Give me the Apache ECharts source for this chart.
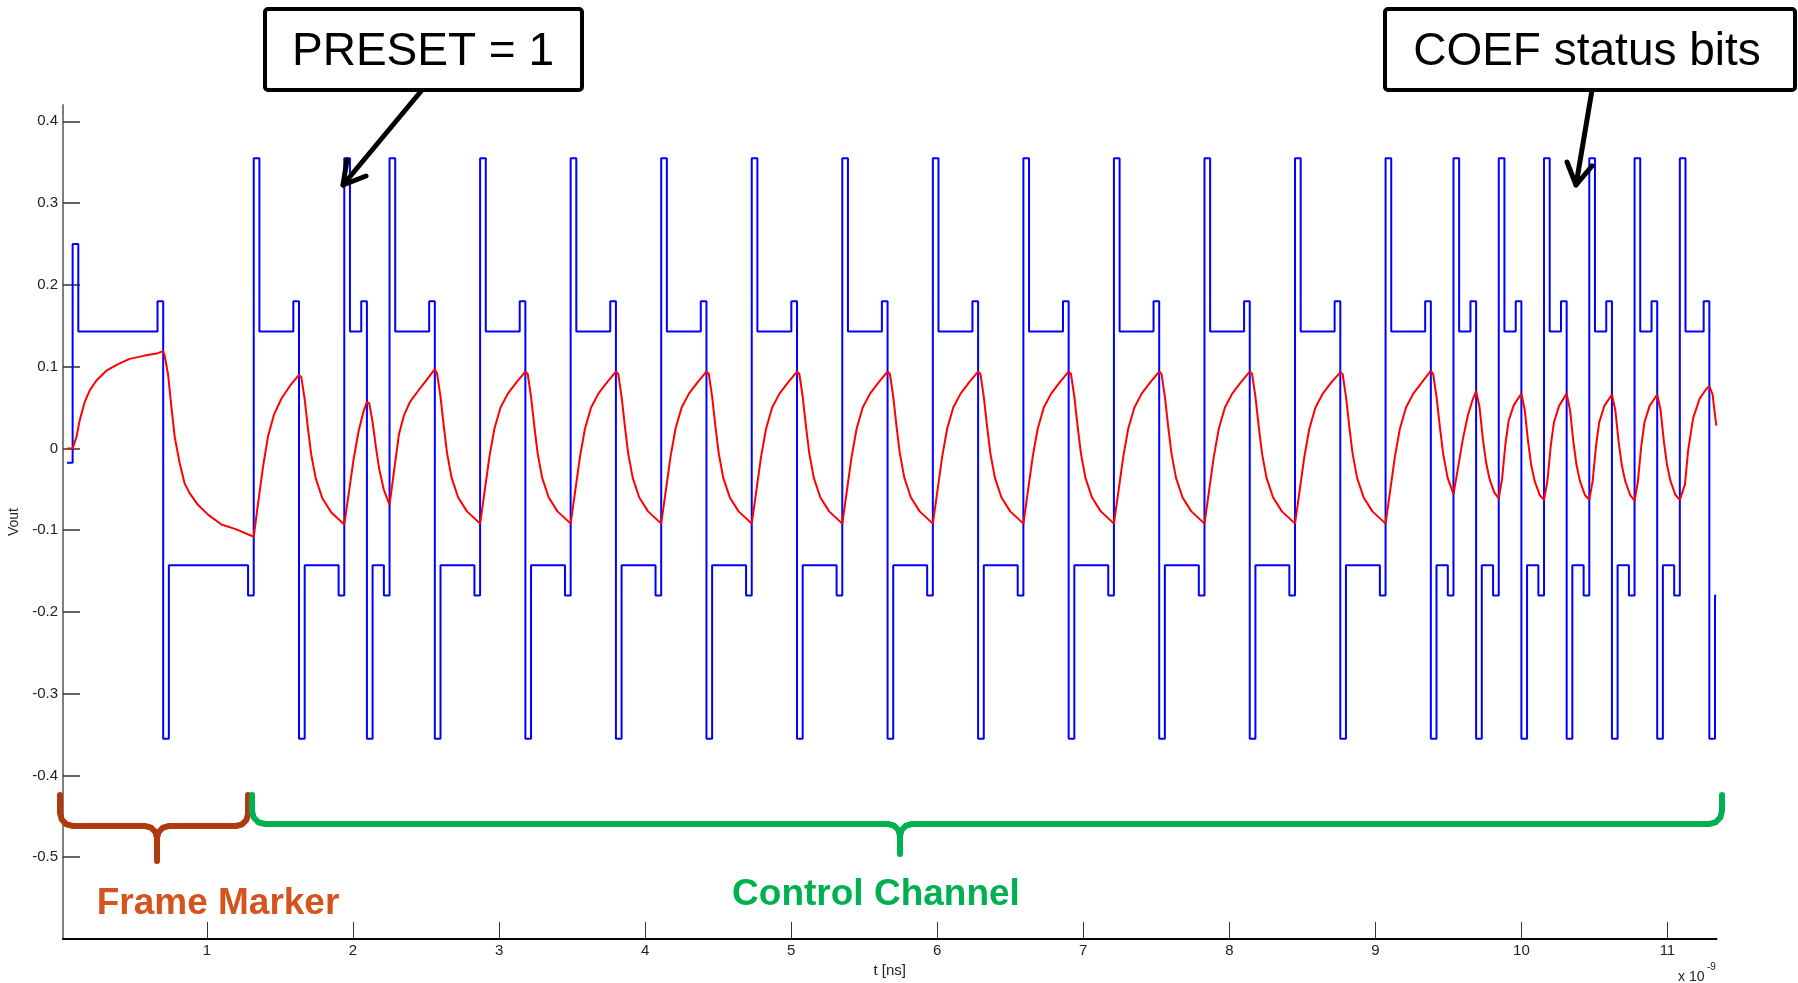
<!DOCTYPE html>
<html>
<head>
<meta charset="utf-8">
<title>Vout</title>
<script src="https://cdn.jsdelivr.net/npm/echarts@6.0.0/dist/echarts.min.js"></script>
<style>
	html, body { margin: 0; padding: 0; background: #fff; }
	#chart1 { width: 1798px; height: 983px; }
</style>
</head>
<body>
<div id="chart1"></div>
<script>
// ---- values (t in ns, Vout in V) ----
var xTicks = [1, 2, 3, 4, 5, 6, 7, 8, 9, 10, 11];
var yTicks = [-0.5, -0.4, -0.3, -0.2, -0.1, 0, 0.1, 0.2, 0.3, 0.4];

// blue: transmitted signal, edge times (first edge goes up, then alternating)
var blueStart = [0.041, -0.0175];
var blueEdges = [0.080, 0.700, 1.320, 1.630, 1.940, 2.095, 2.250, 2.560, 2.870, 3.180,
	3.490, 3.800, 4.110, 4.420, 4.730, 5.040, 5.350, 5.660, 5.970, 6.280,
	6.590, 6.900, 7.210, 7.520, 7.830, 8.140, 8.450, 8.760, 9.070, 9.380,
	9.535, 9.690, 9.845, 10.000, 10.155, 10.310, 10.465, 10.620, 10.775, 10.930,
	11.085, 11.287];
var blueEnd = 11.334;
var uiWidth = 0.0388;      // one unit interval
var blueFirstPeak = 0.25;
var bluePeak = 0.355;      // first UI after an edge
var blueHold = 0.143;      // steady level
var bluePre = 0.18;        // last UI before an edge

// red: received signal
var redPts = [
	[0.044, 0], [0.080, 0],
	[0.106, 0.014], [0.128, 0.034], [0.163, 0.057], [0.197, 0.071], [0.243, 0.083], [0.311, 0.095], [0.391, 0.103], [0.471, 0.1095], [0.573, 0.1135], [0.654, 0.116], [0.700, 0.119],
	[0.710, 0.1135], [0.733, 0.091], [0.756, 0.051], [0.779, 0.014], [0.813, -0.018], [0.847, -0.043], [0.882, -0.055], [0.938, -0.069], [1.007, -0.081], [1.099, -0.093], [1.201, -0.099], [1.320, -0.108],
	[1.349, -0.068], [1.384, -0.022], [1.418, 0.015], [1.460, 0.042], [1.510, 0.061], [1.570, 0.077], [1.630, 0.090],
	[1.646, 0.087], [1.669, 0.060], [1.692, 0.023], [1.714, -0.008], [1.745, -0.037], [1.790, -0.061], [1.850, -0.078], [1.940, -0.093],
	[1.969, -0.057], [2.004, -0.013], [2.038, 0.021], [2.070, 0.044], [2.095, 0.057],
	[2.111, 0.055], [2.134, 0.032], [2.157, 0.001], [2.179, -0.025], [2.210, -0.050], [2.250, -0.069],
	[2.279, -0.030], [2.314, 0.017], [2.348, 0.040], [2.390, 0.057], [2.440, 0.069], [2.500, 0.083], [2.560, 0.097],
	[2.576, 0.091], [2.599, 0.063], [2.622, 0.026], [2.644, -0.006], [2.675, -0.036], [2.720, -0.060], [2.780, -0.077], [2.870, -0.092],
	[2.899, -0.055], [2.934, -0.010], [2.968, 0.024], [3.010, 0.050], [3.060, 0.067], [3.120, 0.081], [3.180, 0.094],
	[3.196, 0.091], [3.219, 0.063], [3.242, 0.026], [3.264, -0.006], [3.295, -0.036], [3.340, -0.060], [3.400, -0.077], [3.490, -0.092],
	[3.519, -0.055], [3.554, -0.010], [3.588, 0.024], [3.630, 0.050], [3.680, 0.067], [3.740, 0.081], [3.800, 0.094],
	[3.816, 0.091], [3.839, 0.063], [3.862, 0.026], [3.884, -0.006], [3.915, -0.036], [3.960, -0.060], [4.020, -0.077], [4.110, -0.092],
	[4.139, -0.055], [4.174, -0.010], [4.208, 0.024], [4.250, 0.050], [4.300, 0.067], [4.360, 0.081], [4.420, 0.094],
	[4.436, 0.091], [4.459, 0.063], [4.482, 0.026], [4.504, -0.006], [4.535, -0.036], [4.580, -0.060], [4.640, -0.077], [4.730, -0.092],
	[4.759, -0.055], [4.794, -0.010], [4.828, 0.024], [4.870, 0.050], [4.920, 0.067], [4.980, 0.081], [5.040, 0.094],
	[5.056, 0.091], [5.079, 0.063], [5.102, 0.026], [5.124, -0.006], [5.155, -0.036], [5.200, -0.060], [5.260, -0.077], [5.350, -0.092],
	[5.379, -0.055], [5.414, -0.010], [5.448, 0.024], [5.490, 0.050], [5.540, 0.067], [5.600, 0.081], [5.660, 0.094],
	[5.676, 0.091], [5.699, 0.063], [5.722, 0.026], [5.744, -0.006], [5.775, -0.036], [5.820, -0.060], [5.880, -0.077], [5.970, -0.092],
	[5.999, -0.055], [6.034, -0.010], [6.068, 0.024], [6.110, 0.050], [6.160, 0.067], [6.220, 0.081], [6.280, 0.094],
	[6.296, 0.091], [6.319, 0.063], [6.342, 0.026], [6.364, -0.006], [6.395, -0.036], [6.440, -0.060], [6.500, -0.077], [6.590, -0.092],
	[6.619, -0.055], [6.654, -0.010], [6.688, 0.024], [6.730, 0.050], [6.780, 0.067], [6.840, 0.081], [6.900, 0.094],
	[6.916, 0.091], [6.939, 0.063], [6.962, 0.026], [6.984, -0.006], [7.015, -0.036], [7.060, -0.060], [7.120, -0.077], [7.210, -0.092],
	[7.239, -0.055], [7.274, -0.010], [7.308, 0.024], [7.350, 0.050], [7.400, 0.067], [7.460, 0.081], [7.520, 0.094],
	[7.536, 0.091], [7.559, 0.063], [7.582, 0.026], [7.604, -0.006], [7.635, -0.036], [7.680, -0.060], [7.740, -0.077], [7.830, -0.092],
	[7.859, -0.055], [7.894, -0.010], [7.928, 0.024], [7.970, 0.050], [8.020, 0.067], [8.080, 0.081], [8.140, 0.094],
	[8.156, 0.091], [8.179, 0.063], [8.202, 0.026], [8.224, -0.006], [8.255, -0.036], [8.300, -0.060], [8.360, -0.077], [8.450, -0.092],
	[8.479, -0.055], [8.514, -0.010], [8.548, 0.024], [8.590, 0.050], [8.640, 0.067], [8.700, 0.081], [8.760, 0.093],
	[8.776, 0.091], [8.799, 0.063], [8.822, 0.026], [8.844, -0.006], [8.875, -0.036], [8.920, -0.060], [8.980, -0.077], [9.070, -0.092],
	[9.099, -0.055], [9.134, -0.010], [9.168, 0.024], [9.210, 0.050], [9.260, 0.067], [9.320, 0.081], [9.380, 0.095],
	[9.396, 0.091], [9.419, 0.063], [9.442, 0.026], [9.464, -0.006], [9.495, -0.036], [9.535, -0.056],
	[9.564, -0.026], [9.599, 0.011], [9.633, 0.040], [9.665, 0.059], [9.690, 0.070],
	[9.713, 0.051], [9.736, 0.012], [9.758, -0.017], [9.781, -0.037], [9.815, -0.054], [9.845, -0.061],
	[9.868, -0.037], [9.891, 0.006], [9.913, 0.034], [9.948, 0.053], [10.000, 0.067],
	[10.023, 0.047], [10.046, 0.008], [10.068, -0.021], [10.091, -0.040], [10.125, -0.057], [10.155, -0.063],
	[10.178, -0.040], [10.201, 0.003], [10.223, 0.032], [10.258, 0.052], [10.310, 0.067],
	[10.333, 0.047], [10.356, 0.008], [10.378, -0.021], [10.401, -0.040], [10.435, -0.057], [10.465, -0.063],
	[10.488, -0.040], [10.511, 0.003], [10.533, 0.032], [10.568, 0.052], [10.620, 0.066],
	[10.643, 0.047], [10.666, 0.008], [10.688, -0.021], [10.711, -0.040], [10.745, -0.057], [10.775, -0.064],
	[10.798, -0.040], [10.821, 0.003], [10.843, 0.032], [10.878, 0.052], [10.930, 0.066],
	[10.953, 0.047], [10.976, 0.008], [10.998, -0.021], [11.021, -0.040], [11.055, -0.057], [11.085, -0.063],
	[11.120, -0.044], [11.142, -0.002], [11.176, 0.037], [11.221, 0.061], [11.267, 0.073], [11.287, 0.076],
	[11.309, 0.066], [11.325, 0.042], [11.335, 0.028]
];

// step points of the blue trace, held until the next point
function buildBlue() {
	var pts = [blueStart.slice()];
	var n = blueEdges.length;
	for (var i = 0; i < n; i++) {
		var p = (i % 2 === 0) ? 1 : -1;
		var t = blueEdges[i];
		pts.push([t, p * (i === 0 ? blueFirstPeak : bluePeak)]);
		if (i < n - 1) {
			pts.push([t + uiWidth, p * blueHold]);
			pts.push([blueEdges[i + 1] - uiWidth, p * bluePre]);
		} else {
			pts.push([t + uiWidth, p * bluePre]);
			pts.push([blueEnd, p * bluePre]);
		}
	}
	return pts;
}

var FONT = '"Liberation Sans", Arial, Helvetica, sans-serif';

// annotations drawn on top (pixel layout)
function txt(x, y, s, size, color, bold) {
	return {
		type: 'text', x: x, y: y, z: 110,
		style: {
			text: s, fill: color,
			font: (bold ? 'bold ' : '') + size + 'px ' + FONT,
			align: 'center', verticalAlign: 'middle',
			textAlign: 'center', textVerticalAlign: 'middle'
		}
	};
}
function pline(points, color, width) {
	return {
		type: 'polyline', z: 100,
		shape: { points: points },
		style: { stroke: color, lineWidth: width, fill: 'none', lineCap: 'round', lineJoin: 'round' }
	};
}
function box(x, y, w, h) {
	return {
		type: 'rect', z: 101,
		shape: { x: x, y: y, width: w, height: h, r: 3 },
		style: { fill: '#fff', stroke: '#000', lineWidth: 4 }
	};
}

var brown = '#AE3A0E';
var green = '#00B050';

var graphics = [
	// PRESET = 1
	pline([[422, 90], [343, 185]], '#000', 5),
	pline([[347, 160], [343, 185], [366, 176]], '#000', 5),
	box(265, 9, 317, 81),
	txt(423, 52, 'PRESET = 1', 46, '#000', false),
	// COEF status bits
	pline([[1592, 90], [1576, 185]], '#000', 5),
	pline([[1567, 162], [1576, 185], [1592, 166]], '#000', 5),
	box(1385, 9, 410, 81),
	txt(1587, 52, 'COEF status bits', 46, '#000', false),
	// braces
	pline([[60, 795], [60, 813], [61.7, 819.5], [66.5, 824.3], [73, 826], [145, 826], [151, 827.6], [155.4, 832], [157, 838], [157, 861],
		[157, 838], [158.6, 832], [163, 827.6], [169, 826], [236, 826], [242, 824.4], [246.4, 820], [248, 814], [248, 795]], brown, 6),
	pline([[252, 795], [252, 811], [253.7, 817.5], [258.5, 822.3], [265, 824], [888, 824], [894, 825.6], [898.4, 830], [900, 836], [900, 854],
		[900, 836], [901.6, 830], [906, 825.6], [912, 824], [1709, 824], [1715.5, 822.3], [1720.3, 817.5], [1722, 811], [1722, 795]], green, 6),
	txt(218, 904, 'Frame Marker', 37, '#D4541E', true),
	txt(876, 895, 'Control Channel', 37, green, true),
	// axis exponent
	{ type: 'text', x: 1678, y: 970, z: 110, style: { text: 'x 10', fill: '#222', font: '14px ' + FONT } },
	{ type: 'text', x: 1707, y: 962, z: 110, style: { text: '-9', fill: '#222', font: '10px ' + FONT } }
];

var chart1 = echarts.init(document.getElementById('chart1'));
chart1.setOption({
	backgroundColor: '#fff',
	animation: false,
	grid: { left: 63, top: 105, width: 1653.5, height: 834, containLabel: false, outerBoundsMode: 'none' },
	xAxis: {
		type: 'value',
		min: 0.014,
		max: 11.336,
		name: 't [ns]',
		nameLocation: 'middle',
		nameGap: 22,
		nameTextStyle: { fontFamily: FONT, fontSize: 15, color: '#222' },
		axisLine: { onZero: false, lineStyle: { color: '#000', width: 2 } },
		axisTick: { customValues: xTicks, inside: true, length: 17, lineStyle: { color: '#333', width: 1 } },
		axisLabel: { customValues: xTicks, margin: 4, fontFamily: FONT, fontSize: 15, color: '#222' },
		splitLine: { show: false }
	},
	yAxis: {
		type: 'value',
		min: -0.6,
		max: 0.42,
		name: 'Vout',
		nameLocation: 'middle',
		nameGap: 40,
		nameTextStyle: { fontFamily: FONT, fontSize: 14, color: '#222' },
		axisLine: { onZero: false, lineStyle: { color: '#7f7f7f', width: 2 } },
		axisTick: { customValues: yTicks, inside: true, length: 17, lineStyle: { color: '#333', width: 1.5 } },
		axisLabel: {
			customValues: yTicks, margin: 5, fontFamily: FONT, fontSize: 15, color: '#222',
			formatter: function (v) { return String(Math.round(v * 10) / 10); }
		},
		splitLine: { show: false }
	},
	series: [
		{
			name: 'tx',
			type: 'line',
			step: 'end',
			showSymbol: false,
			symbol: 'none',
			lineStyle: { color: '#0000ff', width: 2 },
			data: buildBlue()
		},
		{
			name: 'rx',
			type: 'line',
			showSymbol: false,
			symbol: 'none',
			lineStyle: { color: '#ff0000', width: 2 },
			data: redPts
		}
	],
	graphic: graphics
});
</script>
</body>
</html>
